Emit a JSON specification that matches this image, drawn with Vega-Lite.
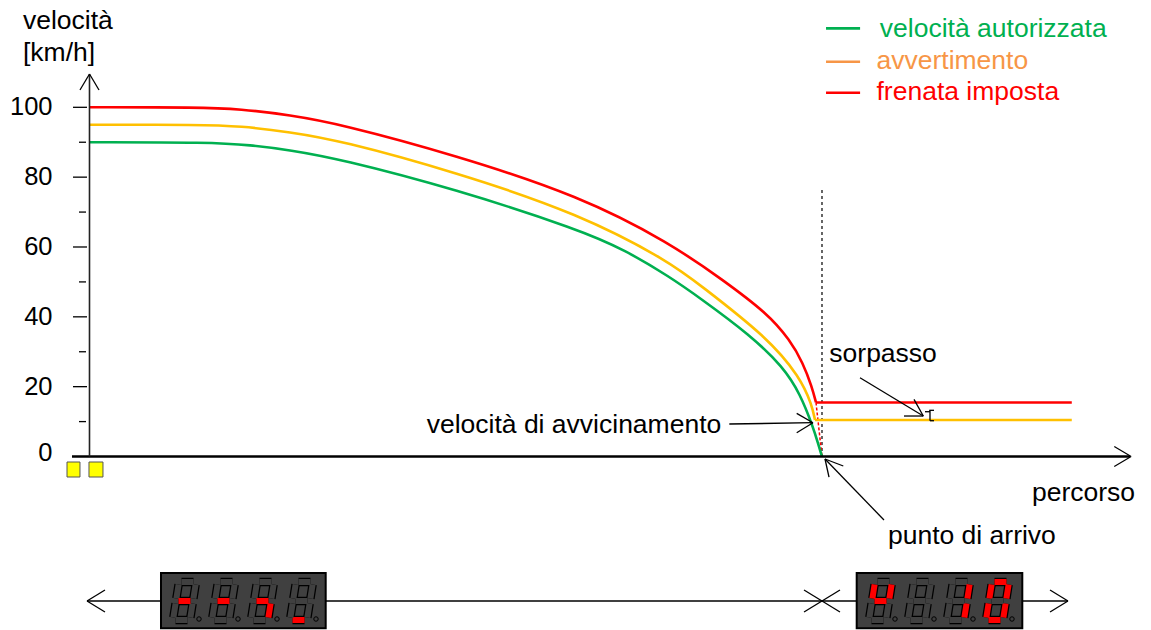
{
  "$schema": "https://vega.github.io/schema/vega-lite/v6.json",
  "width": 1151,
  "height": 630,
  "autosize": {"type": "fit", "contains": "padding"},
  "padding": 0,
  "background": "white",
  "config": {"view": {"stroke": null}, "font": "Liberation Sans"},
  "resolve": {"scale": {"color": "independent"}},
  "datasets": {
    "curve": [
      {"s": "verde", "x": 0, "y": 90},
      {"s": "verde", "x": 16.45, "y": 89.98},
      {"s": "verde", "x": 21.91, "y": 89.2},
      {"s": "verde", "x": 27.37, "y": 87.77},
      {"s": "verde", "x": 34.2, "y": 85.19},
      {"s": "verde", "x": 49.9, "y": 76.6},
      {"s": "verde", "x": 66.96, "y": 64.89},
      {"s": "verde", "x": 73.1, "y": 59.14},
      {"s": "verde", "x": 79.25, "y": 51.4},
      {"s": "verde", "x": 83.35, "y": 45.39},
      {"s": "verde", "x": 90.2, "y": 34.79},
      {"s": "verde", "x": 94.71, "y": 25.63},
      {"s": "verde", "x": 97.03, "y": 17.9},
      {"s": "verde", "x": 98.77, "y": 8.45},
      {"s": "verde", "x": 99.45, "y": 3.87},
      {"s": "verde", "x": 100, "y": 0},
      {"s": "giallo", "x": 0, "y": 95},
      {"s": "giallo", "x": 15.1, "y": 95.0},
      {"s": "giallo", "x": 20.55, "y": 94.64},
      {"s": "giallo", "x": 27.37, "y": 92.93},
      {"s": "giallo", "x": 34.2, "y": 90.49},
      {"s": "giallo", "x": 49.9, "y": 81.47},
      {"s": "giallo", "x": 66.96, "y": 69.44},
      {"s": "giallo", "x": 79.25, "y": 55.7},
      {"s": "giallo", "x": 83.35, "y": 49.11},
      {"s": "giallo", "x": 92.49, "y": 34.22},
      {"s": "giallo", "x": 97.0, "y": 22.77},
      {"s": "giallo", "x": 98.63, "y": 14.75},
      {"s": "giallo", "x": 99.04, "y": 10.45},
      {"s": "rosso", "x": 0, "y": 100},
      {"s": "rosso", "x": 15, "y": 100},
      {"s": "rosso", "x": 20.55, "y": 99.51},
      {"s": "rosso", "x": 27.37, "y": 97.79},
      {"s": "rosso", "x": 34.2, "y": 95.22},
      {"s": "rosso", "x": 49.9, "y": 86.34},
      {"s": "rosso", "x": 66.96, "y": 74.6},
      {"s": "rosso", "x": 79.25, "y": 61.14},
      {"s": "rosso", "x": 86.48, "y": 50.54},
      {"s": "rosso", "x": 92.49, "y": 41.09},
      {"s": "rosso", "x": 95.63, "y": 33.36},
      {"s": "rosso", "x": 97.41, "y": 26.77},
      {"s": "rosso", "x": 98.63, "y": 19.9},
      {"s": "rosso", "x": 99.18, "y": 15.46}
    ],
    "seg": [
      {"k": "xaxis", "x": -2.39, "y": 0, "x2": 142.05, "y2": 0},
      {"k": "yaxis", "x": 0, "y": 0, "x2": 0, "y2": 109.5},
      {"k": "ann", "x": 139.9, "y": 2.86, "x2": 142.2, "y2": 0},
      {"k": "ann", "x": 139.9, "y": -2.86, "x2": 142.2, "y2": 0},
      {"k": "ann", "x": -1.3, "y": 104.95, "x2": 0, "y2": 109.54},
      {"k": "ann", "x": 1.3, "y": 104.95, "x2": 0, "y2": 109.54},
      {"k": "tick", "x": -2.253, "y": 20, "x2": -0.341, "y2": 20},
      {"k": "tick", "x": -2.253, "y": 40, "x2": -0.341, "y2": 40},
      {"k": "tick", "x": -2.253, "y": 60, "x2": -0.341, "y2": 60},
      {"k": "tick", "x": -2.253, "y": 80, "x2": -0.341, "y2": 80},
      {"k": "tick", "x": -2.253, "y": 100, "x2": -0.341, "y2": 100},
      {"k": "tick", "x": -1.433, "y": 10, "x2": -0.478, "y2": 10},
      {"k": "tick", "x": -1.433, "y": 30, "x2": -0.478, "y2": 30},
      {"k": "tick", "x": -1.433, "y": 50, "x2": -0.478, "y2": 50},
      {"k": "tick", "x": -1.433, "y": 70, "x2": -0.478, "y2": 70},
      {"k": "tick", "x": -1.433, "y": 90, "x2": -0.478, "y2": 90},
      {"k": "ann", "x": 105.188, "y": 22.566, "x2": 113.829, "y2": 11.598},
      {"k": "ann", "x": 112.56, "y": 16.38, "x2": 113.829, "y2": 11.598},
      {"k": "ann", "x": 111.195, "y": 11.598, "x2": 113.829, "y2": 11.598},
      {"k": "ann", "x": 114.648, "y": 13.23, "x2": 115.29, "y2": 13.23},
      {"k": "ann", "x": 114.744, "y": 13.23, "x2": 114.744, "y2": 10.252},
      {"k": "ann", "x": 114.744, "y": 10.252, "x2": 115.29, "y2": 10.252},
      {"k": "ann", "x": 114.061, "y": 12.829, "x2": 114.744, "y2": 12.829},
      {"k": "ann", "x": 87.345, "y": 9.307, "x2": 98.771, "y2": 9.679},
      {"k": "ann", "x": 96.546, "y": 12.371, "x2": 98.771, "y2": 9.679},
      {"k": "ann", "x": 96.546, "y": 6.816, "x2": 98.771, "y2": 9.679},
      {"k": "ann", "x": 100.41, "y": -0.716, "x2": 108.464, "y2": -18.184},
      {"k": "ann", "x": 102.908, "y": -2.721, "x2": 100.41, "y2": -0.716},
      {"k": "ann", "x": 100.956, "y": -5.871, "x2": 100.41, "y2": -0.716},
      {"k": "ann", "x": -0.341, "y": -41.38, "x2": 133.584, "y2": -41.38},
      {"k": "ann", "x": 2.116, "y": -38.23, "x2": -0.341, "y2": -41.38},
      {"k": "ann", "x": 2.116, "y": -44.53, "x2": -0.341, "y2": -41.38},
      {"k": "ann", "x": 97.543, "y": -38.23, "x2": 100, "y2": -41.38},
      {"k": "ann", "x": 97.543, "y": -44.53, "x2": 100, "y2": -41.38},
      {"k": "ann", "x": 102.457, "y": -38.23, "x2": 100, "y2": -41.38},
      {"k": "ann", "x": 102.457, "y": -44.53, "x2": 100, "y2": -41.38},
      {"k": "ann", "x": 131.127, "y": -38.23, "x2": 133.584, "y2": -41.38},
      {"k": "ann", "x": 131.127, "y": -44.53, "x2": 133.584, "y2": -41.38},
      {"k": "vdash", "x": 100, "y": 76.32, "x2": 100, "y2": 0},
      {"k": "rdash", "x": 99.18, "y": 15.46, "x2": 100, "y2": 0},
      {"k": "rflat", "x": 99.18, "y": 15.46, "x2": 134.1, "y2": 15.46},
      {"k": "yflat", "x": 99.04, "y": 10.45, "x2": 134.1, "y2": 10.45},
      {"k": "lg", "x": 100.55, "y": 122.6, "x2": 105.2, "y2": 122.6},
      {"k": "lo", "x": 100.55, "y": 113.06, "x2": 105.2, "y2": 113.06},
      {"k": "lr", "x": 100.55, "y": 104.18, "x2": 105.2, "y2": 104.18}
    ],
    "txt": [
      {"t": "velocità", "x": -9.08, "y": 122.43, "k": "nero"},
      {"t": "[km/h]", "x": -9.08, "y": 113.4, "k": "nero"},
      {"t": "velocità autorizzata", "x": 107.9, "y": 120.27, "k": "verde"},
      {"t": "avvertimento", "x": 107.44, "y": 110.97, "k": "arancio"},
      {"t": "frenata imposta", "x": 107.44, "y": 102.09, "k": "rosso"},
      {"t": "sorpasso", "x": 101.0, "y": 27.06, "k": "nero"},
      {"t": "velocità di avvicinamento", "x": 46.03, "y": 6.64, "k": "nero"},
      {"t": "punto di arrivo", "x": 109.0, "y": -25.06, "k": "nero"},
      {"t": "percorso", "x": 128.67, "y": -12.6, "k": "nero"}
    ],
    "ticklab": [
      {"t": "0", "x": -5.05, "y": 1.1},
      {"t": "20", "x": -5.05, "y": 20},
      {"t": "40", "x": -5.05, "y": 40},
      {"t": "60", "x": -5.05, "y": 60},
      {"t": "80", "x": -5.05, "y": 80},
      {"t": "100", "x": -5.05, "y": 100}
    ],
    "sq": [
      {"x": -3.07, "x2": -1.3, "y": -1.575, "y2": -5.87},
      {"x": -0.07, "x2": 1.84, "y": -1.575, "y2": -5.87}
    ],
    "box": [
      {"x": 9.761, "x2": 32.246, "y": -33.36, "y2": -49.2},
      {"x": 104.737, "x2": 127.345, "y": -33.36, "y2": -49.2}
    ],
    "seven": [
      {"x": 12.559, "x2": 14.198, "y": -35.94, "y2": -35.94, "on": "no"},
      {"x": 14.486, "x2": 14.183, "y": -36.65, "y2": -40.67, "on": "no"},
      {"x": 14.076, "x2": 13.773, "y": -42.09, "y2": -46.11, "on": "no"},
      {"x": 11.74, "x2": 13.379, "y": -46.82, "y2": -46.82, "on": "no"},
      {"x": 11.755, "x2": 11.452, "y": -42.09, "y2": -46.11, "on": "no"},
      {"x": 12.165, "x2": 11.862, "y": -36.65, "y2": -40.67, "on": "no"},
      {"x": 12.15, "x2": 13.788, "y": -41.38, "y2": -41.38, "on": "si"},
      {"x": 17.884, "x2": 19.523, "y": -35.94, "y2": -35.94, "on": "no"},
      {"x": 19.811, "x2": 19.508, "y": -36.65, "y2": -40.67, "on": "no"},
      {"x": 19.401, "x2": 19.098, "y": -42.09, "y2": -46.11, "on": "no"},
      {"x": 17.065, "x2": 18.704, "y": -46.82, "y2": -46.82, "on": "no"},
      {"x": 17.08, "x2": 16.777, "y": -42.09, "y2": -46.11, "on": "no"},
      {"x": 17.49, "x2": 17.187, "y": -36.65, "y2": -40.67, "on": "no"},
      {"x": 17.475, "x2": 19.113, "y": -41.38, "y2": -41.38, "on": "si"},
      {"x": 23.208, "x2": 24.847, "y": -35.94, "y2": -35.94, "on": "no"},
      {"x": 25.135, "x2": 24.832, "y": -36.65, "y2": -40.67, "on": "no"},
      {"x": 24.725, "x2": 24.422, "y": -42.09, "y2": -46.11, "on": "si"},
      {"x": 22.389, "x2": 24.028, "y": -46.82, "y2": -46.82, "on": "no"},
      {"x": 22.404, "x2": 22.101, "y": -42.09, "y2": -46.11, "on": "no"},
      {"x": 22.814, "x2": 22.511, "y": -36.65, "y2": -40.67, "on": "no"},
      {"x": 22.799, "x2": 24.437, "y": -41.38, "y2": -41.38, "on": "si"},
      {"x": 28.532, "x2": 30.171, "y": -35.94, "y2": -35.94, "on": "no"},
      {"x": 30.459, "x2": 30.156, "y": -36.65, "y2": -40.67, "on": "no"},
      {"x": 30.049, "x2": 29.746, "y": -42.09, "y2": -46.11, "on": "no"},
      {"x": 27.713, "x2": 29.352, "y": -46.82, "y2": -46.82, "on": "si"},
      {"x": 27.728, "x2": 27.425, "y": -42.09, "y2": -46.11, "on": "no"},
      {"x": 28.138, "x2": 27.835, "y": -36.65, "y2": -40.67, "on": "no"},
      {"x": 28.123, "x2": 29.761, "y": -41.38, "y2": -41.38, "on": "no"},
      {"x": 107.576, "x2": 109.215, "y": -35.94, "y2": -35.94, "on": "no"},
      {"x": 109.503, "x2": 109.2, "y": -36.65, "y2": -40.67, "on": "si"},
      {"x": 109.093, "x2": 108.79, "y": -42.09, "y2": -46.11, "on": "no"},
      {"x": 106.757, "x2": 108.396, "y": -46.82, "y2": -46.82, "on": "no"},
      {"x": 106.772, "x2": 106.469, "y": -42.09, "y2": -46.11, "on": "no"},
      {"x": 107.182, "x2": 106.879, "y": -36.65, "y2": -40.67, "on": "si"},
      {"x": 107.167, "x2": 108.805, "y": -41.38, "y2": -41.38, "on": "si"},
      {"x": 112.901, "x2": 114.54, "y": -35.94, "y2": -35.94, "on": "no"},
      {"x": 114.828, "x2": 114.525, "y": -36.65, "y2": -40.67, "on": "no"},
      {"x": 114.418, "x2": 114.115, "y": -42.09, "y2": -46.11, "on": "no"},
      {"x": 112.082, "x2": 113.721, "y": -46.82, "y2": -46.82, "on": "no"},
      {"x": 112.097, "x2": 111.794, "y": -42.09, "y2": -46.11, "on": "no"},
      {"x": 112.507, "x2": 112.204, "y": -36.65, "y2": -40.67, "on": "no"},
      {"x": 112.492, "x2": 114.13, "y": -41.38, "y2": -41.38, "on": "no"},
      {"x": 118.225, "x2": 119.864, "y": -35.94, "y2": -35.94, "on": "no"},
      {"x": 120.152, "x2": 119.849, "y": -36.65, "y2": -40.67, "on": "si"},
      {"x": 119.742, "x2": 119.439, "y": -42.09, "y2": -46.11, "on": "si"},
      {"x": 117.406, "x2": 119.045, "y": -46.82, "y2": -46.82, "on": "no"},
      {"x": 117.421, "x2": 117.118, "y": -42.09, "y2": -46.11, "on": "no"},
      {"x": 117.831, "x2": 117.528, "y": -36.65, "y2": -40.67, "on": "no"},
      {"x": 117.816, "x2": 119.454, "y": -41.38, "y2": -41.38, "on": "no"},
      {"x": 123.549, "x2": 125.188, "y": -35.94, "y2": -35.94, "on": "si"},
      {"x": 125.476, "x2": 125.173, "y": -36.65, "y2": -40.67, "on": "si"},
      {"x": 125.066, "x2": 124.763, "y": -42.09, "y2": -46.11, "on": "si"},
      {"x": 122.73, "x2": 124.369, "y": -46.82, "y2": -46.82, "on": "si"},
      {"x": 122.745, "x2": 122.442, "y": -42.09, "y2": -46.11, "on": "si"},
      {"x": 123.155, "x2": 122.852, "y": -36.65, "y2": -40.67, "on": "si"},
      {"x": 123.14, "x2": 124.778, "y": -41.38, "y2": -41.38, "on": "no"}
    ],
    "dots": [
      {"x": 14.948, "y": -46.53},
      {"x": 20.273, "y": -46.53},
      {"x": 25.597, "y": -46.53},
      {"x": 30.921, "y": -46.53},
      {"x": 109.965, "y": -46.53},
      {"x": 115.29, "y": -46.53},
      {"x": 120.614, "y": -46.53},
      {"x": 125.938, "y": -46.53}
    ]
  },
  "encoding": {
    "x": {"field": "x", "type": "quantitative", "scale": {"domain": [-12.218, 144.915], "nice": false, "zero": false}, "axis": null},
    "y": {"field": "y", "type": "quantitative", "scale": {"domain": [-49.68, 130.73], "nice": false, "zero": false}, "axis": null}
  },
  "layer": [
    {
      "data": {"name": "seg"},
      "transform": [{"filter": "datum.k == 'vdash'"}],
      "mark": {"type": "rule", "color": "#000000", "strokeWidth": 1.2, "strokeDash": [3, 3]},
      "encoding": {"x2": {"field": "x2"}, "y2": {"field": "y2"}}
    },
    {
      "data": {"name": "seg"},
      "transform": [{"filter": "datum.k == 'rdash'"}],
      "mark": {"type": "rule", "color": "#ff0000", "strokeWidth": 1.5, "strokeDash": [3, 2]},
      "encoding": {"x2": {"field": "x2"}, "y2": {"field": "y2"}}
    },
    {
      "data": {"name": "curve"},
      "mark": {"type": "line", "interpolate": "basis", "strokeWidth": 2.6},
      "encoding": {
        "color": {"field": "s", "type": "nominal", "scale": {"domain": ["verde", "giallo", "rosso"], "range": ["#00b050", "#ffc000", "#ff0000"]}, "legend": null}
      }
    },
    {
      "data": {"name": "seg"},
      "transform": [{"filter": "indexof(['lg','lo','lr','rflat','yflat'], datum.k) >= 0"}],
      "mark": {"type": "rule", "strokeWidth": 2.6},
      "encoding": {
        "x2": {"field": "x2"}, "y2": {"field": "y2"},
        "color": {"field": "k", "type": "nominal", "scale": {"domain": ["lg", "lo", "lr", "rflat", "yflat"], "range": ["#00b050", "#f79646", "#ff0000", "#ff0000", "#ffc000"]}, "legend": null}
      }
    },
    {
      "data": {"name": "seg"},
      "transform": [{"filter": "datum.k == 'xaxis'"}],
      "mark": {"type": "rule", "color": "#000000", "strokeWidth": 2.6},
      "encoding": {"x2": {"field": "x2"}, "y2": {"field": "y2"}}
    },
    {
      "data": {"name": "seg"},
      "transform": [{"filter": "datum.k == 'yaxis'"}],
      "mark": {"type": "rule", "color": "#222222", "strokeWidth": 1.6},
      "encoding": {"x2": {"field": "x2"}, "y2": {"field": "y2"}}
    },
    {
      "data": {"name": "seg"},
      "transform": [{"filter": "datum.k == 'tick' || datum.k == 'ann'"}],
      "mark": {"type": "rule", "color": "#000000", "strokeWidth": 1.3},
      "encoding": {"x2": {"field": "x2"}, "y2": {"field": "y2"}}
    },
    {
      "data": {"name": "sq"},
      "mark": {"type": "rect", "fill": "#ffff00", "stroke": "#555555", "strokeWidth": 1},
      "encoding": {"x2": {"field": "x2"}, "y2": {"field": "y2"}}
    },
    {
      "data": {"name": "box"},
      "mark": {"type": "rect", "fill": "#404040", "stroke": "#000000", "strokeWidth": 2},
      "encoding": {"x2": {"field": "x2"}, "y2": {"field": "y2"}}
    },
    {
      "data": {"name": "seven"},
      "mark": {"type": "rule", "color": "#000000", "strokeWidth": 8.5, "strokeCap": "butt"},
      "encoding": {"x2": {"field": "x2"}, "y2": {"field": "y2"}}
    },
    {
      "data": {"name": "seven"},
      "mark": {"type": "rule", "strokeWidth": 6, "strokeCap": "butt"},
      "encoding": {
        "x2": {"field": "x2"}, "y2": {"field": "y2"},
        "color": {"field": "on", "type": "nominal", "scale": {"domain": ["si", "no"], "range": ["#ff0000", "#404040"]}, "legend": null}
      }
    },
    {
      "data": {"name": "dots"},
      "mark": {"type": "point", "shape": "circle", "size": 20, "filled": true, "fill": "#404040", "stroke": "#000000", "strokeWidth": 1, "opacity": 1}
    },
    {
      "data": {"name": "txt"},
      "mark": {"type": "text", "align": "left", "baseline": "alphabetic", "fontSize": 26.5},
      "encoding": {
        "text": {"field": "t"},
        "color": {"field": "k", "type": "nominal", "scale": {"domain": ["nero", "verde", "arancio", "rosso"], "range": ["#000000", "#00b050", "#f79646", "#ff0000"]}, "legend": null}
      }
    },
    {
      "data": {"name": "ticklab"},
      "mark": {"type": "text", "align": "right", "baseline": "middle", "fontSize": 25.5, "color": "#000000"},
      "encoding": {"text": {"field": "t"}}
    }
  ]
}
